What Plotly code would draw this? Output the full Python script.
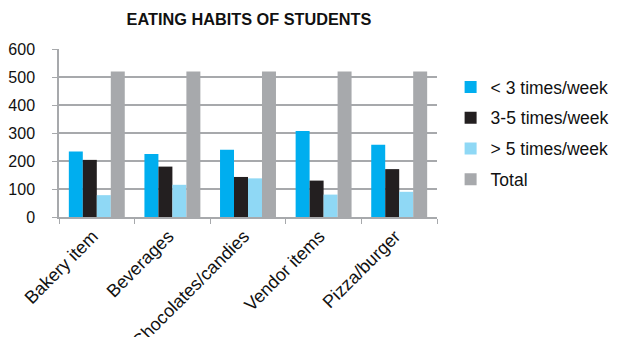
import plotly.graph_objects as go

categories = ["Bakery item", "Beverages", "Chocolates/candies", "Vendor items", "Pizza/burger"]
series_names = ["< 3 times/week", "3-5 times/week", "> 5 times/week", "Total"]
lt3 = [234, 225, 240, 307, 258]
b35 = [204, 180, 143, 130, 171]
gt5 = [78, 115, 138, 80, 90]
total = [520, 520, 520, 520, 520]
colors = ["#00AEEF", "#231F20", "#8FD8F5", "#A7A9AC"]

fig = go.Figure()
for i, (name, vals) in enumerate(zip(series_names, [lt3, b35, gt5, total])):
    fig.add_trace(go.Bar(x=categories, y=vals, name=name, marker_color=colors[i],
                         marker_line_width=0, legendgroup=str(i)))

font = "Liberation Sans, Arial, sans-serif"
fig.update_layout(
    width=617, height=337,
    margin=dict(l=51, r=188, t=41, b=128, autoexpand=False),
    paper_bgcolor="white", plot_bgcolor="white",
    barmode="group", bargap=0.26, bargroupgap=0,
    title=dict(text="<b>EATING HABITS OF STUDENTS</b>", x=241/617, xanchor="center",
               y=1 - 11/337, yanchor="middle", font=dict(family=font, size=16.3, color="#111")),
    font=dict(family=font, size=16, color="#111"),
    legend=dict(x=1.036, xanchor="left", y=0.5, yanchor="middle",
                font=dict(family=font, size=17.5, color="#111"), tracegroupgap=5,
                itemwidth=30, bgcolor="rgba(0,0,0,0)"),
    showlegend=True,
)
fig.update_yaxes(range=[0, 600], dtick=100, showgrid=True, gridcolor="#A7A9AC", gridwidth=1.5,
                 showline=True, linecolor="#A7A9AC", linewidth=1.5, ticks="outside",
                 tickcolor="#A7A9AC", ticklen=5, tickfont=dict(size=16), zeroline=False,
                 ticklabelstandoff=14, automargin=False)
fig.update_xaxes(showline=True, linecolor="#A7A9AC", linewidth=1.5, ticks="outside",
                 tickson="boundaries", tickcolor="#A7A9AC", ticklen=5, tickangle=-45,
                 tickfont=dict(size=18), automargin=False, ticklabelshift=-4)
fig.write_html("out.html")
